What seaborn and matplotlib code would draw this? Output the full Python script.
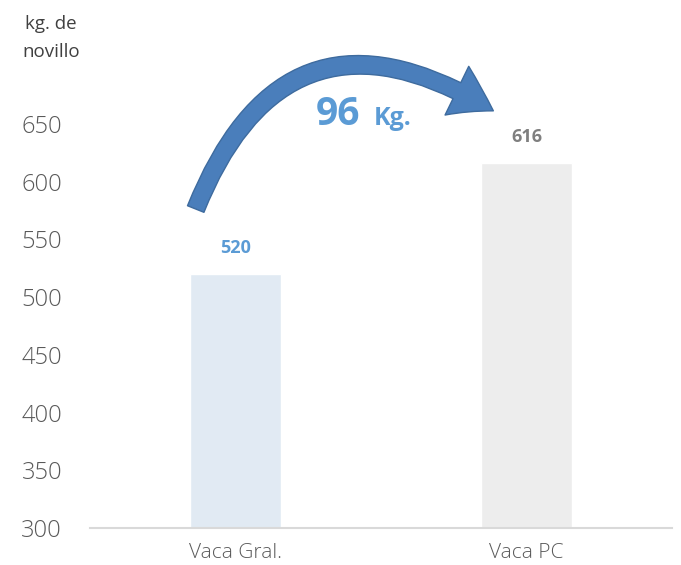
import matplotlib

matplotlib.use("Agg")
import matplotlib.pyplot as plt
import pandas as pd
import seaborn as sns
from matplotlib.patches import FancyArrowPatch

# datos
categorias = ["Vaca Gral.", "Vaca PC"]
kg_novillo = [520, 616]
colores_barra = ["#DEEAF6", "#EDEDED"]
colores_valor = ["#5B9BD5", "#7F7F7F"]
ticks_y = [300, 350, 400, 450, 500, 550, 600, 650]

df = pd.DataFrame({"categoria": categorias, "kg": kg_novillo})

sns.set_style("white")
plt.rcParams["font.family"] = ["Open Sans", "DejaVu Sans"]

fig = plt.figure(figsize=(6.81, 5.65), dpi=100)
ax = fig.add_axes([0.132, 0.0655, 0.855, 0.8175])

sns.barplot(
    data=df, x="categoria", y="kg", hue="categoria",
    palette=colores_barra, width=0.315, legend=False, ax=ax,
)

ax.set_xlim(-0.5, 1.5)
ax.set_ylim(300, 700)
ax.set_yticks(ticks_y)
ax.set_xlabel("")
ax.set_ylabel("")
ax.tick_params(axis="y", labelsize=17, labelcolor="#595959", length=0, pad=20)
ax.tick_params(axis="x", labelsize=15, labelcolor="#595959", length=0, pad=11)
for lbl in ax.get_yticklabels() + ax.get_xticklabels():
    lbl.set_fontweight("light")

for lado in ["top", "right", "left"]:
    ax.spines[lado].set_visible(False)
ax.spines["bottom"].set_color("#D9D9D9")
ax.spines["bottom"].set_linewidth(1.5)

# etiquetas de valor
for i, (v, c) in enumerate(zip(kg_novillo, colores_valor)):
    ax.text(i, v + 15, f"{v}", ha="center", va="bottom",
            fontsize=13, fontweight="bold", color=c)

# titulo del eje
fig.text(0.075, 0.933, "kg. de\nnovillo", ha="center", va="center",
         fontsize=13.5, color="#404040", linespacing=1.75)

# flecha curva con la diferencia
diferencia = kg_novillo[1] - kg_novillo[0]
flecha = FancyArrowPatch(
    (-0.14, 574), (0.894, 660),
    connectionstyle="arc3,rad=-0.6",
    arrowstyle="simple,head_width=2.6,head_length=2.0,tail_width=0.85",
    mutation_scale=15, facecolor="#4A7EBB", edgecolor="#3E6B9E",
    linewidth=1, clip_on=False,
)
ax.add_patch(flecha)

ax.text(0.43, 658, f"{diferencia}", ha="right", va="center",
        fontsize=28, fontweight="bold", color="#5B9BD5")
ax.text(0.475, 655, "Kg.", ha="left", va="center",
        fontsize=18, fontweight="bold", color="#5B9BD5")

plt.savefig("out.png", dpi=100)
plt.close()
